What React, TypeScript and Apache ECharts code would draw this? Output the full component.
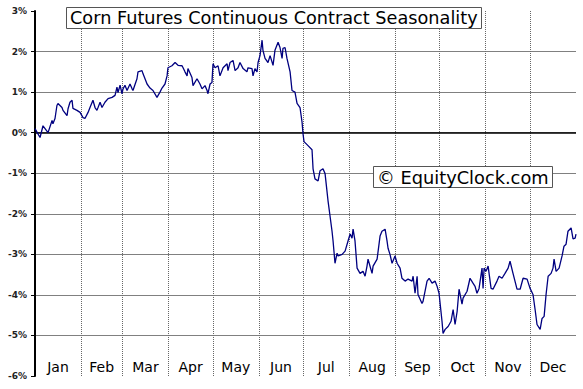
import React, { useEffect, useRef } from "react";
import * as echarts from "echarts";

const days = [
  0, 3.4, 5.4, 8.8, 11.5, 12.1, 13.5, 14.8, 15.5, 18.2, 18.9, 21.6, 22.3, 23.6, 25.0, 25.6, 28.3, 30.4,
  32.4, 33.7, 35.8, 37.1, 39.1, 40.5, 41.8, 43.9, 45.2, 47.2, 49.3, 52.0, 54.0, 55.3, 56.0, 57.4, 58.7,
  59.4, 60.7, 62.1, 64.1, 65.5, 66.1, 68.8, 69.5, 72.2, 72.9, 75.6, 77.6, 79.6, 82.3, 84.3, 85.7, 87.7,
  89.1, 89.7, 92.4, 94.5, 96.5, 99.2, 99.9, 101.2, 102.6, 103.2, 105.9, 106.6, 109.3, 111.3, 112.7,
  114.7, 116.1, 116.7, 118.1, 119.4, 120.1, 121.5, 123.5, 124.8, 126.9, 129.6, 130.2, 131.6, 133.6,
  135.0, 137.0, 138.3, 140.4, 143.0, 143.7, 146.4, 147.1, 148.4, 149.8, 150.5, 151.8, 153.2, 153.8,
  155.2, 157.2, 158.6, 160.6, 161.9, 164.0, 165.3, 166.7, 167.3, 168.7, 170.0, 172.1, 173.4, 175.4,
  176.8, 178.8, 180.2, 180.8, 181.5, 184.2, 186.9, 187.6, 188.9, 191.0, 192.3, 194.3, 195.7, 197.7,
  200.4, 201.1, 202.4, 203.8, 204.5, 207.2, 209.2, 211.2, 212.6, 213.9, 214.6, 215.9, 217.3, 219.3,
  221.3, 222.7, 224.0, 224.7, 227.4, 228.1, 230.8, 232.8, 234.1, 236.2, 237.5, 238.2, 239.5, 240.9,
  242.9, 244.3, 246.3, 247.6, 249.7, 251.7, 254.4, 255.1, 256.4, 257.8, 258.4, 261.1, 261.8, 264.5,
  265.9, 267.9, 269.9, 271.3, 272.6, 274.6, 275.3, 276.7, 278.7, 280.7, 282.1, 283.4, 284.8, 286.1,
  288.1, 288.8, 291.5, 293.5, 295.5, 296.9, 298.2, 299.6, 301.6, 302.3, 303.0, 304.3, 305.7, 307.7,
  309.0, 311.7, 313.1, 315.1, 317.1, 319.2, 320.5, 322.5, 325.2, 327.3, 329.3, 332.0, 334.0, 336.0,
  337.4, 338.7, 340.8, 342.1, 343.5, 344.8, 346.2, 348.2, 349.5, 350.2, 351.6, 353.6, 355.6, 356.9,
  358.3, 359.6, 361.7, 363.0, 364.4, 365.0,
];

const values = [
  0.1, -0.12, 0.17, 0.0, 0.3, 0.22, 0.35, 0.67, 0.72, 0.62, 0.55, 0.42, 0.59, 0.75, 0.8, 0.6, 0.55, 0.5,
  0.37, 0.35, 0.5, 0.62, 0.8, 0.62, 0.55, 0.75, 0.62, 0.75, 0.84, 0.87, 0.92, 1.12, 0.99, 1.17, 0.96,
  1.08, 1.17, 1.04, 1.2, 1.08, 1.04, 1.33, 1.5, 1.53, 1.45, 1.2, 1.1, 1.04, 0.87, 1.0, 1.1, 1.2,
  1.4, 1.6, 1.65, 1.73, 1.66, 1.65, 1.6, 1.5, 1.4, 1.58, 1.36, 1.16, 1.33, 1.2, 1.08,
  1.16, 1.04, 0.96, 1.2, 1.24, 1.7, 1.6, 1.65, 1.4, 1.6, 1.7, 1.53, 1.73, 1.78,
  1.53, 1.6, 1.73, 1.58, 1.5, 1.6, 1.58, 1.4, 1.58, 1.5, 1.73, 1.9, 2.28, 2.03,
  1.83, 1.73, 1.9, 1.66, 2.03, 2.23, 2.1, 1.83, 2.08, 2.1, 1.83, 1.5, 1.04, 1.0,
  0.72, 0.62, 0.25, -0.02, -0.22, -0.32, -0.42, -0.89, -1.14, -1.19, -0.94, -0.89, -1.01, -1.68,
  -2.43, -2.67, -3.22, -2.97, -3.04, -3.0, -2.92, -2.67, -2.5, -2.6, -2.38, -2.67, -3.34, -3.47,
  -3.42, -3.54, -3.29, -3.12, -3.47, -3.29, -3.12, -2.55, -2.43, -2.38, -2.67, -2.85, -3.0, -3.22,
  -3.04, -3.22, -3.34, -3.59, -3.66, -3.61, -3.66, -3.54, -3.96, -3.54, -3.99, -4.21, -4.16, -3.66,
  -3.59, -3.71, -3.66, -3.79, -3.96, -4.65, -4.95, -4.85, -4.78, -4.65, -4.36, -4.73, -4.41, -3.86,
  -4.23, -4.08, -3.91, -3.59, -3.71, -3.79, -3.96, -3.84, -3.34, -3.84, -3.34, -3.42, -3.29, -3.84,
  -3.86, -3.66, -3.54, -3.59, -3.47, -3.34, -3.17, -3.47, -3.86, -3.86, -3.59, -3.61, -3.84, -3.99,
  -4.36, -4.73, -4.85, -4.58, -4.53, -3.99, -3.54, -3.47, -3.34, -3.12, -3.42, -3.34, -3.04, -2.8,
  -2.75, -2.43, -2.35, -2.62, -2.6, -2.5,
];

const monthNames = ["Jan", "Feb", "Mar", "Apr", "May", "Jun", "Jul", "Aug", "Sep", "Oct", "Nov", "Dec"];
const monthStarts = [31, 59, 90, 120, 151, 181, 212, 243, 273, 304, 334];
const monthMids = [15.5, 45, 74.5, 105, 135.5, 166, 196.5, 227.5, 258, 288.5, 319, 349.5];

const titleText = "Corn Futures Continuous Contract Seasonality";
const watermarkText = "\u00A9 EquityClock.com";

export default function App() {
  const ref = useRef<HTMLDivElement>(null);

  useEffect(() => {
    if (!ref.current) return;
    const chart = echarts.init(ref.current, undefined, { renderer: "svg" });
    const font = "DejaVu Sans, Verdana, sans-serif";
    chart.setOption({
      animation: false,
      backgroundColor: "#ffffff",
      title: [
        {
          text: titleText,
          left: 66,
          top: 7,
          backgroundColor: "#ffffff",
          borderColor: "#555555",
          borderWidth: 1,
          padding: [2, 4, 2, 4],
          textStyle: { fontFamily: font, fontSize: 17.7, fontWeight: "normal", color: "#000000" },
          z: 10,
        },
        {
          text: watermarkText,
          left: 373,
          top: 166,
          backgroundColor: "#ffffff",
          borderColor: "#555555",
          borderWidth: 1,
          padding: [2, 4, 2, 4],
          textStyle: { fontFamily: font, fontSize: 17.8, fontWeight: "normal", color: "#000000" },
          z: 10,
        },
      ],
      grid: { left: 35, right: 7, top: 11, bottom: 13, containLabel: false },
      xAxis: {
        type: "value",
        min: 0,
        max: 365,
        axisLine: { show: false },
        axisTick: { show: false },
        splitLine: { show: false },
        axisLabel: {
          inside: true,
          margin: 2,
          customValues: monthMids,
          formatter: (v: number) => {
            const i = monthMids.indexOf(v);
            return i >= 0 ? monthNames[i] : "";
          },
          fontFamily: font,
          fontSize: 14,
          color: "#000000",
        },
      },
      yAxis: {
        type: "value",
        min: -6,
        max: 3,
        interval: 1,
        axisLine: { show: true, onZero: false, lineStyle: { color: "#000000", width: 2 } },
        axisTick: { show: true, length: 4, lineStyle: { color: "#000000" } },
        axisLabel: {
          formatter: (v: number) => `${v}%`,
          fontFamily: font,
          fontSize: 9,
          fontWeight: "bold",
          color: "#222222",
          margin: 8,
        },
        splitLine: {
          show: true,
          showMinLine: false,
          showMaxLine: false,
          lineStyle: { color: "#808080", width: 1 },
        },
      },
      series: [
        {
          type: "line",
          data: days.map((d, i) => [d, values[i]]),
          showSymbol: false,
          symbol: "none",
          lineStyle: { color: "#000080", width: 1.3 },
          z: 5,
          markLine: {
            silent: true,
            symbol: "none",
            label: { show: false },
            z: 1,
            data: [
              ...monthStarts.map((m) => ({
                xAxis: m,
                lineStyle: { color: "#666666", width: 1, type: "dotted" },
              })),
              { yAxis: 0, lineStyle: { color: "#000000", width: 1.5, type: "solid" } },
            ],
          },
        },
      ],
    });
    return () => chart.dispose();
  }, []);

  return (
    <div
      ref={ref}
      style={{ position: "absolute", left: 0, top: 0, width: 583, height: 389 }}
    />
  );
}
